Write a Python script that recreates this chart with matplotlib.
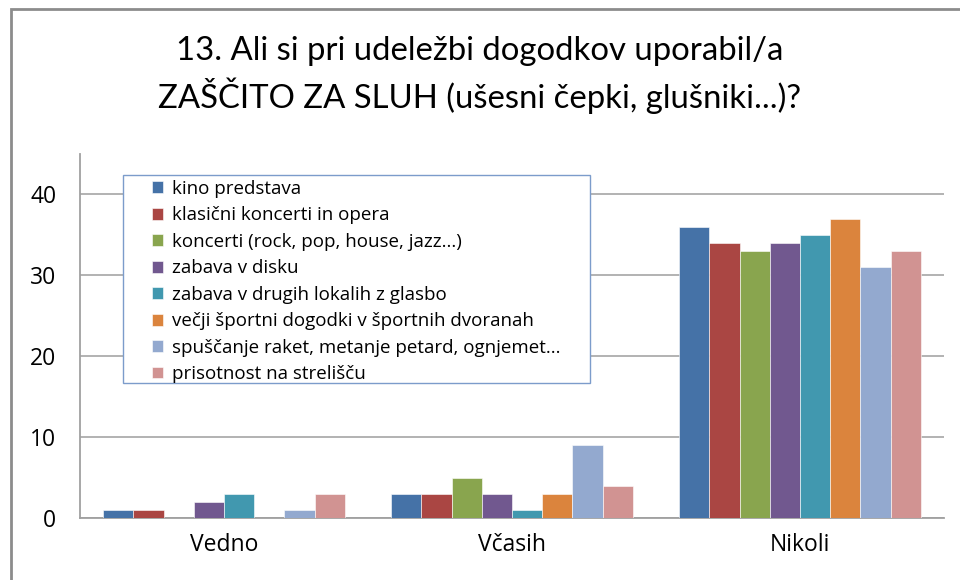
import numpy as np
import matplotlib.pyplot as plt
from matplotlib.patches import Rectangle

plt.rcParams['font.family'] = ['Open Sans', 'DejaVu Sans']

categories = ['Vedno', 'Včasih', 'Nikoli']
series_names = [
    'kino predstava',
    'klasični koncerti in opera',
    'koncerti (rock, pop, house, jazz...)',
    'zabava v disku',
    'zabava v drugih lokalih z glasbo',
    'večji športni dogodki v športnih dvoranah',
    'spuščanje raket, metanje petard, ognjemet...',
    'prisotnost na strelišču',
]
values = [
    [1, 3, 36],
    [1, 3, 34],
    [0, 5, 33],
    [2, 3, 34],
    [3, 1, 35],
    [0, 3, 37],
    [1, 9, 31],
    [3, 4, 33],
]
colors = ['#4572A7', '#AA4643', '#89A54E', '#71588F',
          '#4198AF', '#DB843D', '#93A9CF', '#D19392']
title = '13. Ali si pri udeležbi dogodkov uporabil/a\nZAŠČITO ZA SLUH (ušesni čepki, glušniki...)?'

W, H = 960, 580
fig = plt.figure(figsize=(W / 100, H / 100), dpi=100)

# outer chart frame (only top and left edges visible in the screenshot)
fig.patches.append(Rectangle((11 / W, -0.1), 1.2, (H - 9) / H + 0.1,
                             transform=fig.transFigure, fill=False,
                             edgecolor='#8C8C8C', lw=2))

ax = fig.add_axes([80 / W, (H - 518) / H, 864 / W, (518 - 154) / H])

n = len(series_names)
bw = 0.84 / n
x = np.arange(len(categories))
for i, (name, vals) in enumerate(zip(series_names, values)):
    off = (i - (n - 1) / 2) * bw
    ax.bar(x + off, vals, bw, color=colors[i], label=name, zorder=3,
           edgecolor='white', linewidth=0.4)

ax.set_xlim(-0.5, 2.5)
ax.set_ylim(0, 45)
ax.set_yticks([0, 10, 20, 30, 40])
ax.set_xticks(x)
ax.set_xticklabels(categories)
ax.tick_params(axis='both', length=0, labelsize=16.5, colors='#000000')
ax.tick_params(axis='y', pad=17)
ax.tick_params(axis='x', pad=11)
ax.grid(axis='y', color='#A6A6A6', lw=1.2)
ax.set_axisbelow(True)
for s in ['top', 'right']:
    ax.spines[s].set_visible(False)
for s in ['left', 'bottom']:
    ax.spines[s].set_color('#A0A0A0')
    ax.spines[s].set_linewidth(1.3)

fig.text(0.5, 1 - 75 / H, title, ha='center', va='center',
         fontsize=23.7, linespacing=1.37, family=['Lato', 'DejaVu Sans'])

# legend box drawn separately so the left padding can be wider than the top
ax.add_patch(Rectangle((123 / W, 1 - 383 / H), (590 - 123) / W, (383 - 175) / H,
                       transform=fig.transFigure, facecolor='white',
                       edgecolor='#7C9CCB', lw=1.0, zorder=5, clip_on=False))
leg = ax.legend(loc='upper left', bbox_to_anchor=(152 / W, 1 - 180 / H),
                bbox_transform=fig.transFigure, fontsize=13.5,
                frameon=False, borderaxespad=0, borderpad=0,
                handlelength=0.6, handleheight=0.6, handletextpad=0.45,
                labelspacing=0.45)
leg.set_zorder(6)

fig.savefig('out.png', dpi=100)
